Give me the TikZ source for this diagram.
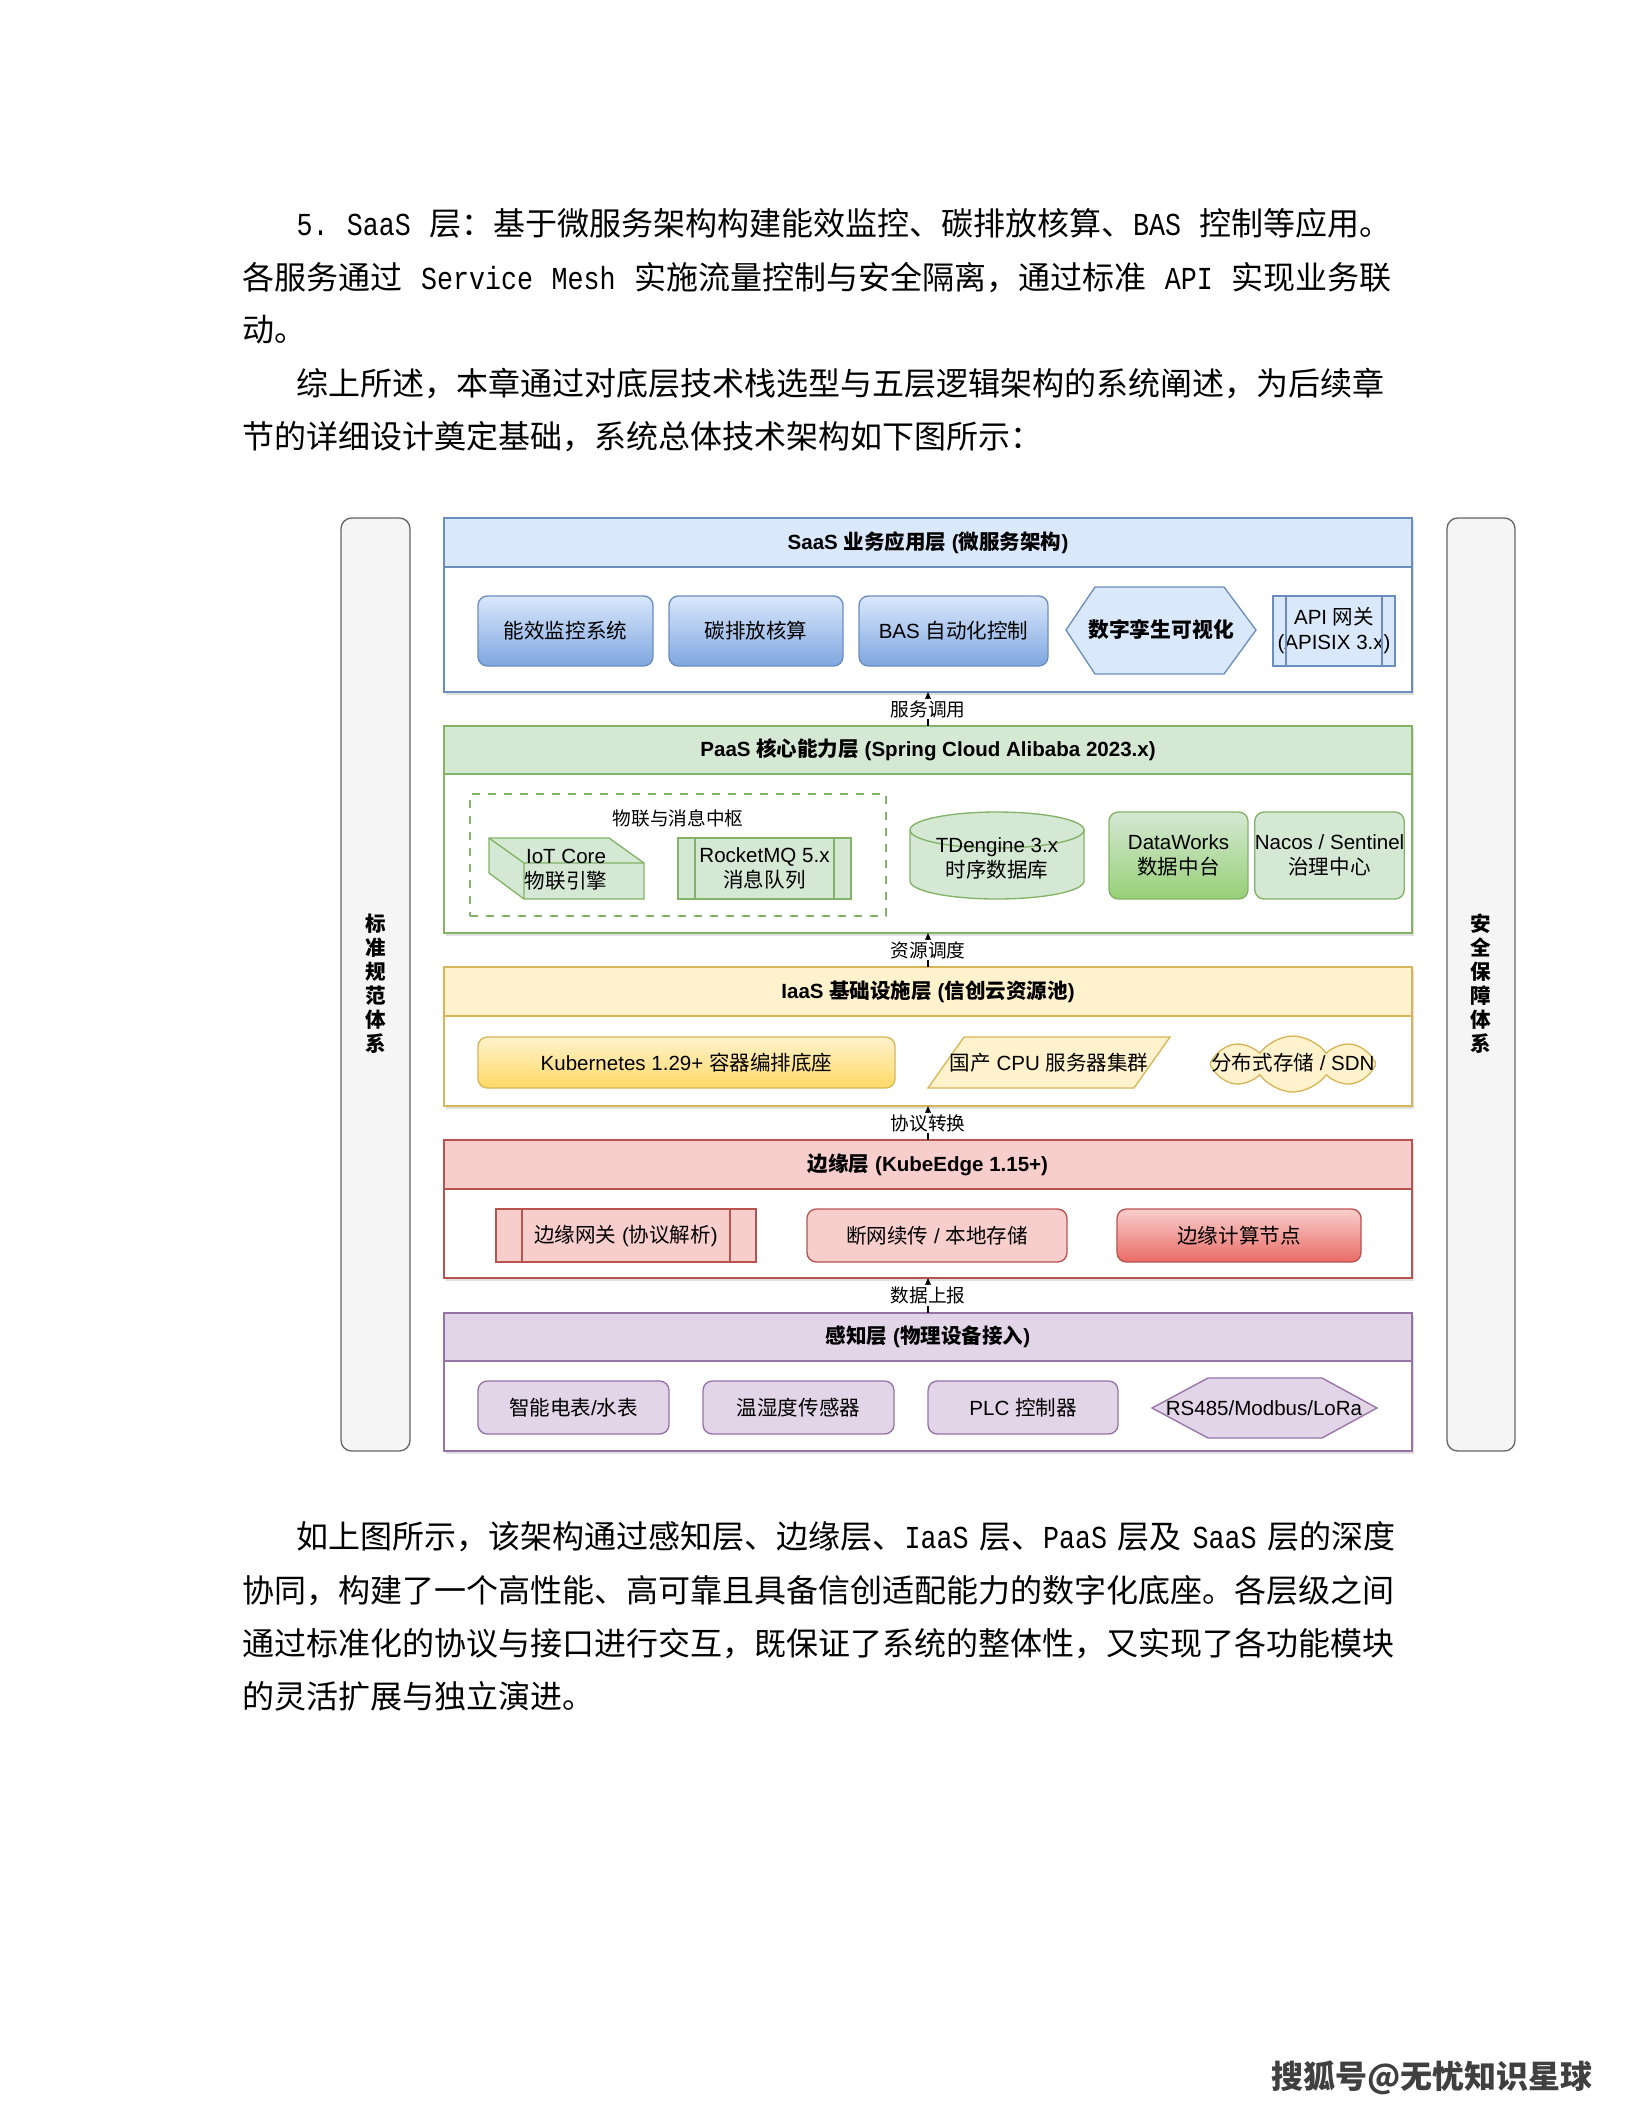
\documentclass[tikz,border=0pt]{standalone}
\usepackage{fontspec}
\setmainfont{Noto Sans CJK SC}
\newfontfamily\lsans{Liberation Sans}
\newfontfamily\lmono[FakeStretch=0.8333]{Liberation Mono}
\usetikzlibrary{shapes.symbols,shadows,arrows.meta}
\newcommand\La[1]{{\lsans #1}}
\newcommand\Mo[1]{{\lmono #1}}
\newcommand\dfont{\fontsize{7.7}{9.4}\selectfont}
\XeTeXlinebreaklocale "zh"
\XeTeXlinebreakskip=0pt plus 1pt minus 0.4pt
\definecolor{blueF}{HTML}{DAE8FC}\definecolor{blueD}{HTML}{6C8EBF}\definecolor{blueG}{HTML}{7EA6E0}
\definecolor{greenF}{HTML}{D5E8D4}\definecolor{greenD}{HTML}{82B366}\definecolor{greenG}{HTML}{97D077}
\definecolor{yelF}{HTML}{FFF2CC}\definecolor{yelD}{HTML}{D6B656}\definecolor{yelG}{HTML}{FFD966}
\definecolor{redF}{HTML}{F8CECC}\definecolor{redD}{HTML}{B85450}\definecolor{redG}{HTML}{EA6B66}
\definecolor{purF}{HTML}{E1D5E7}\definecolor{purD}{HTML}{9673A6}
\definecolor{grayF}{HTML}{F5F5F5}\definecolor{grayD}{HTML}{666666}
\newcommand\bx[7]{\node[#6, inner sep=0pt, outer sep=0pt, minimum width={(#4-#2)*0.375pt}, minimum height={(#5-#3)*0.375pt}] (#1) at ({(#2+#4)/2},{(#3+#5)/2}) {#7};}
\tikzset{
  every node/.style={font=\dfont, align=center, text=black},
  lay/.style={draw=#1, fill=white, line width=0.5pt, drop shadow={shadow xshift=0.8pt, shadow yshift=-1.1pt, opacity=0.25}},
  hdr/.style 2 args={draw=#2, fill=#1, line width=0.5pt, font=\dfont\bfseries},
  gbox/.style n args={3}{draw=#1, top color=#2, bottom color=#3, rounded corners=3.5pt, line width=0.5pt},
  fbox/.style 2 args={draw=#1, fill=#2, rounded corners=3.5pt, line width=0.5pt},
  pbox/.style 2 args={draw=#1, fill=#2, line width=0.5pt},
  side/.style={draw=grayD, fill=grayF, rounded corners=4pt, line width=0.5pt},
  conn/.style={-{Stealth[length=3pt,width=2.6pt]}, line width=0.5pt, black},
  lbl/.style={fill=white, inner sep=0.6pt, font=\fontsize{7}{8}\selectfont},
  para/.style={anchor=west, inner sep=0pt, font=\fontsize{12}{14}\selectfont, align=left},
  sidetxt/.style={font=\fontsize{7.7}{9}\selectfont\bfseries},
}
\begin{document}
\begin{tikzpicture}[x=0.375pt,y=-0.375pt]
\fill[white] (0,0) rectangle (1632,2112);
\useasboundingbox (0,0) rectangle (1632,2112);

% ---------- paragraphs ----------
\node[para] (t1) at (296,223.5) {\hbox to 410.6pt{\Mo{5.~SaaS }层：基于微服务架构构建能效监控、碳排放核算、\Mo{BAS }控制等应用。}};
\node[para] (t2) at (242,277.4) {\hbox to 430.9pt{各服务通过\Mo{ Service Mesh }实施流量控制与安全隔离，通过标准\Mo{ API }实现业务联}};
\node[para] (t3) at (242,329.9) {动。};
\node[para] (t4) at (296,383.8) {\hbox to 410.6pt{综上所述，本章通过对底层技术栈选型与五层逻辑架构的系统阐述，为后续章}};
\node[para] (t5) at (242,436.3) {节的详细设计奠定基础，系统总体技术架构如下图所示：};
\node[para] (t6) at (296,1536.4) {\hbox to 410.6pt{如上图所示，该架构通过感知层、边缘层、\Mo{IaaS }层、\Mo{PaaS }层及\Mo{ SaaS }层的深度}};
\node[para] (t7) at (242,1590.2) {\hbox to 430.9pt{协同，构建了一个高性能、高可靠且具备信创适配能力的数字化底座。各层级之间}};
\node[para] (t8) at (242,1644.1) {\hbox to 430.9pt{通过标准化的协议与接口进行交互，既保证了系统的整体性，又实现了各功能模块}};
\node[para] (t9) at (242,1696.6) {的灵活扩展与独立演进。};
\node[font=\fontsize{12}{14}\selectfont\bfseries, text=black!75] (wm) at (1432,2078) {搜狐号@无忧知识星球};

% ---------- side bars ----------
\bx{lb}{341}{518}{410}{1451}{side}{}
\bx{rb}{1447}{518}{1515}{1451}{side}{}
\node[sidetxt] (lbt) at (375.5,984) {标\\准\\规\\范\\体\\系};
\node[sidetxt] (rbt) at (1481,984) {安\\全\\保\\障\\体\\系};

% ---------- SaaS ----------
\bx{saas}{444}{518}{1412}{692}{lay=blueD}{}
\bx{saash}{444}{518}{1412}{567}{hdr={blueF}{blueD}}{\La{SaaS }业务应用层\La{ (}微服务架构\La{)}}
\bx{s1}{478}{596}{653}{666}{gbox={blueD}{blueF}{blueG}}{能效监控系统}
\bx{s2}{669}{596}{843}{666}{gbox={blueD}{blueF}{blueG}}{碳排放核算}
\bx{s3}{859}{596}{1048}{666}{gbox={blueD}{blueF}{blueG}}{\La{BAS }自动化控制}
\draw[pbox={blueD}{blueF}] (1066,630) -- (1095,587) -- (1224,587) -- (1256,630) -- (1224,674) -- (1095,674) -- cycle;
\node[font=\fontsize{7.8}{9.4}\selectfont\bfseries] (s4) at (1161,630) {数字孪生可视化};
\bx{s5}{1273}{596}{1395}{666}{pbox={blueD}{blueF}}{\La{API }网关\\\La{(APISIX 3.x)}}
\draw[blueD, line width=0.5pt] (1286,596) -- (1286,666) (1382,596) -- (1382,666);

% ---------- PaaS ----------
\bx{paas}{444}{726}{1412}{933}{lay=greenD}{}
\bx{paash}{444}{726}{1412}{774}{hdr={greenF}{greenD}}{\La{PaaS }核心能力层\La{ (Spring Cloud Alibaba 2023.x)}}
\bx{grp}{470}{794}{886}{916}{draw=greenD, dashed, line width=0.5pt}{}
\node[font=\fontsize{7}{8}\selectfont] (grpl) at (678,818) {物联与消息中枢};
\draw[pbox={greenD}{greenF}] (489,838) -- (609,838) -- (644,863) -- (644,899) -- (524,899) -- (489,873) -- cycle;
\draw[greenD, line width=0.5pt] (489,838) -- (524,863) -- (644,863) (524,863) -- (524,899);
\node (iot) at (566,870) {\La{IoT Core}\\物联引擎};
\bx{mq}{678}{838}{851}{899}{pbox={greenD}{greenF}}{\La{RocketMQ 5.x}\\消息队列}
\draw[greenD, line width=0.5pt] (695,838) -- (695,899) (834,838) -- (834,899);
\draw[pbox={greenD}{greenF}] (910,830) -- (910,881) arc[start angle=180, end angle=360, x radius=32.625pt, y radius=6.75pt] -- (1084,830) arc[start angle=0, end angle=180, x radius=32.625pt, y radius=6.75pt] -- cycle;
\draw[greenD, line width=0.5pt] (910,830) arc[start angle=180, end angle=360, x radius=32.625pt, y radius=6.75pt];
\node (tde) at (997,858) {\La{TDengine 3.x}\\时序数据库};
\bx{dw}{1109}{812}{1248}{899}{gbox={greenD}{greenF}{greenG}}{\La{DataWorks}\\数据中台}
\bx{nac}{1264}{812}{1395}{899}{fbox={greenD}{greenF}}{\La{Nacos / Sentinel}\\治理中心}

% ---------- IaaS ----------
\bx{iaas}{444}{967}{1412}{1106}{lay=yelD}{}
\bx{iaash}{444}{967}{1412}{1016}{hdr={yelF}{yelD}}{\La{IaaS }基础设施层\La{ (}信创云资源池\La{)}}
\bx{k8s}{478}{1037}{895}{1088}{gbox={yelD}{yelF}{yelG}}{\La{Kubernetes 1.29+ }容器编排底座}
\draw[pbox={yelD}{yelF}] (928,1088) -- (964,1037) -- (1170,1037) -- (1134,1088) -- cycle;
\node (cpu) at (1049,1063) {国产\La{ CPU }服务器集群};
\node[cloud, cloud puffs=8, cloud puff arc=110, aspect=2.8, draw=yelD, fill=yelF, line width=0.5pt, minimum width=62pt, minimum height=21pt, inner sep=0pt] (cld) at (1293,1064) {};
\node (cldt) at (1293,1063) {分布式存储\La{ / SDN}};

% ---------- Edge ----------
\bx{edge}{444}{1140}{1412}{1278}{lay=redD}{}
\bx{edgeh}{444}{1140}{1412}{1189}{hdr={redF}{redD}}{边缘层\La{ (KubeEdge 1.15+)}}
\bx{e1}{496}{1209}{756}{1262}{pbox={redD}{redF}}{边缘网关\La{ (}协议解析\La{)}}
\draw[redD, line width=0.5pt] (522,1209) -- (522,1262) (730,1209) -- (730,1262);
\bx{e2}{807}{1209}{1067}{1262}{fbox={redD}{redF}}{断网续传\La{ / }本地存储}
\bx{e3}{1117}{1209}{1361}{1262}{gbox={redD}{redF}{redG}}{边缘计算节点}

% ---------- Perception ----------
\bx{perc}{444}{1313}{1412}{1451}{lay=purD}{}
\bx{perch}{444}{1313}{1412}{1361}{hdr={purF}{purD}}{感知层\La{ (}物理设备接入\La{)}}
\bx{p1}{478}{1381}{669}{1434}{fbox={purD}{purF}}{智能电表\La{/}水表}
\bx{p2}{703}{1381}{894}{1434}{fbox={purD}{purF}}{温湿度传感器}
\bx{p3}{928}{1381}{1118}{1434}{fbox={purD}{purF}}{\La{PLC }控制器}
\draw[pbox={purD}{purF}] (1152,1408) -- (1208,1378) -- (1322,1378) -- (1377,1408) -- (1322,1438) -- (1208,1438) -- cycle;
\node (p4) at (1264,1408) {\La{RS485/Modbus/LoRa}};

% ---------- connectors ----------
\draw[conn] (paas.north) -- (saas.south) node[lbl, midway] (c1) {服务调用};
\draw[conn] (iaas.north) -- (paas.south) node[lbl, midway] (c2) {资源调度};
\draw[conn] (edge.north) -- (iaas.south) node[lbl, midway] (c3) {协议转换};
\draw[conn] (perc.north) -- (edge.south) node[lbl, midway] (c4) {数据上报};
\end{tikzpicture}
\end{document}
